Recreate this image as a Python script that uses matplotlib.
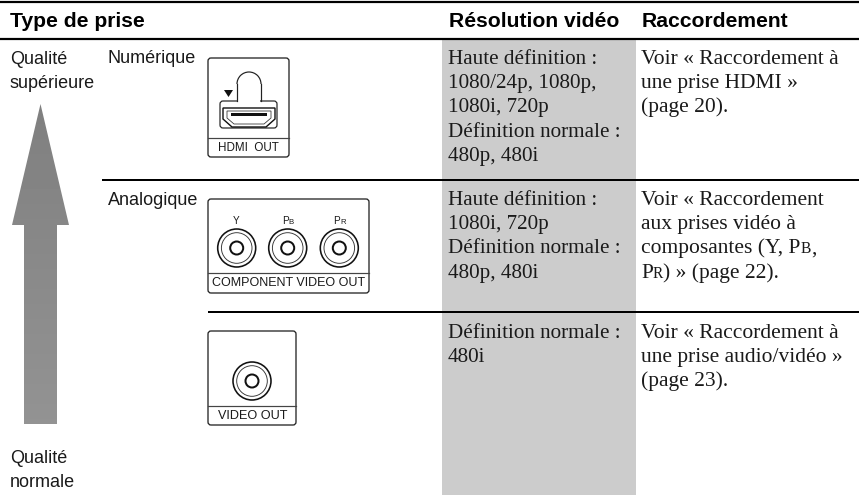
import numpy as np
import matplotlib
matplotlib.use('Agg')
from matplotlib import pyplot as plt
from matplotlib.patches import Arc, Circle, FancyBboxPatch, Polygon, Rectangle

SANS = 'Liberation Sans'
SERIF = 'Liberation Serif'
INK = '#1a1a1a'

headers = ['Type de prise', 'Résolution vidéo', 'Raccordement']
quality_top = ['Qualité', 'supérieure']
quality_bottom = ['Qualité', 'normale']
signal_types = ['Numérique', 'Analogique']

resolution_rows = [
    ['Haute définition :', '1080/24p, 1080p,', '1080i, 720p', 'Définition normale :', '480p, 480i'],
    ['Haute définition :', '1080i, 720p', 'Définition normale :', '480p, 480i'],
    ['Définition normale :', '480i'],
]
# each line is a list of runs, (text, small) where small is the small capital part
connection_rows = [
    [[('Voir « Raccordement à', 0)], [('une prise HDMI »', 0)], [('(page 20).', 0)]],
    [[('Voir « Raccordement', 0)], [('aux prises vidéo à', 0)],
     [('composantes (Y, P', 0), ('B', 1), (',', 0)], [('P', 0), ('R', 1), (') » (page 22).', 0)]],
    [[('Voir « Raccordement à', 0)], [('une prise audio/vidéo »', 0)], [('(page 23).', 0)]],
]
row_baselines = [64, 205, 338]
rules = [(0, 1.5, 2.2), (0, 39, 2.2), (102, 179.5, 2), (208, 312, 2)]

fig = plt.figure(figsize=(8.59, 4.95), dpi=100)
ax = fig.add_axes([0, 0, 1, 1])
ax.set_xlim(0, 859)
ax.set_ylim(495, 0)
ax.axis('off')


def px(w):
    return w * 0.72


def write_runs(x, y, runs, size):
    r = fig.canvas.get_renderer()
    for txt, small in runs:
        t = ax.text(x, y, txt, family=SERIF, fontsize=size * 0.72 if small else size,
                    color=INK, va='baseline', ha='left')
        x = t.get_window_extent(r).x1


def box(x0, y0, x1, y1):
    ax.add_patch(FancyBboxPatch((x0 + 3, y0 + 3), x1 - x0 - 6, y1 - y0 - 6,
                                boxstyle='round,pad=3,rounding_size=3',
                                fc='white', ec='#222222', lw=px(1.3), zorder=2))


def jack(x, y):
    ax.add_patch(Circle((x, y), 19, fc='white', ec='#111111', lw=px(1.6), zorder=3))
    ax.add_patch(Circle((x, y), 15.3, fc='white', ec='#333333', lw=px(0.9), zorder=3))
    ax.add_patch(Circle((x, y), 6.5, fc='white', ec='#111111', lw=px(2), zorder=3))


# grey column
ax.add_patch(Rectangle((442, 39), 194, 456, fc='#cccccc', ec='none', zorder=0))

for x, y, lw in rules:
    ax.plot([x, 859], [y, y], color='black', lw=px(lw), solid_capstyle='butt', zorder=1)

# arrow, slight gradient downwards
arrow = Polygon([(40.5, 104), (69, 225), (57, 225), (57, 424), (24, 424), (24, 225), (12, 225)],
                closed=True, fc='none', ec='none')
ax.add_patch(arrow)
grad = np.linspace(0.50, 0.575, 64).reshape(-1, 1)
im = ax.imshow(grad, cmap='gray', vmin=0, vmax=1, extent=(12, 69, 424, 104), aspect='auto', zorder=1)
im.set_clip_path(arrow)
ax.set_xlim(0, 859)
ax.set_ylim(495, 0)

# header and left labels
for x, txt in zip([10, 449, 642], headers):
    ax.text(x, 27, txt, family=SANS, weight='bold', fontsize=15.2, color='black', va='baseline')
for y, txt in zip([64, 88], quality_top):
    ax.text(10, y, txt, family=SANS, fontsize=13, color=INK, va='baseline')
for y, txt in zip([463, 487], quality_bottom):
    ax.text(10, y, txt, family=SANS, fontsize=13, color=INK, va='baseline')
for y, txt in zip([63, 205], signal_types):
    ax.text(107.5, y, txt, family=SANS, fontsize=13, color=INK, va='baseline')

# table text
for base, lines in zip(row_baselines, resolution_rows):
    for i, line in enumerate(lines):
        write_runs(448, base + i * 24.2, [(line, 0)], 15.2)
for base, lines in zip(row_baselines, connection_rows):
    for i, runs in enumerate(lines):
        write_runs(641, base + i * 24.2, runs, 15.5)

# HDMI socket
box(208, 58, 289, 157)
ax.plot([208, 289], [138, 138], color='#444444', lw=px(1.2), zorder=3)
ax.add_patch(FancyBboxPatch((223, 104), 51, 21, boxstyle='round,pad=3,rounding_size=3',
                            fc='white', ec='#222222', lw=px(1.2), zorder=3))
ax.add_patch(Rectangle((238, 98), 22, 8, fc='white', ec='none', zorder=4))
ax.add_patch(Arc((249, 84), 24, 24, theta1=180, theta2=360, ec='#222222', lw=px(1.2), zorder=4))
ax.plot([237, 237], [84, 101], color='#222222', lw=px(1.2), zorder=4)
ax.plot([261, 261], [84, 101], color='#222222', lw=px(1.2), zorder=4)
ax.add_patch(Polygon([(223, 108), (275, 108), (275, 119), (266, 127), (232, 127), (223, 119)],
                     closed=True, fc='white', ec='#111111', lw=px(1.4), zorder=4))
ax.add_patch(Polygon([(227, 111), (271, 111), (271, 118), (264, 124), (234, 124), (227, 118)],
                     closed=True, fc='white', ec='#333333', lw=px(0.8), zorder=4))
ax.add_patch(Rectangle((231, 113), 36, 3, fc='#111111', ec='none', zorder=5))
ax.add_patch(Polygon([(224, 90), (233, 90), (228.5, 97)], closed=True, fc='#111111', ec='none', zorder=4))
ax.text(248.5, 148, 'HDMI  OUT', family=SANS, fontsize=8.4, color=INK, ha='center', va='center', zorder=4)

# component socket
box(208, 199, 369, 293)
ax.plot([208, 369], [273, 273], color='#444444', lw=px(1.2), zorder=3)
jack_x = [236.7, 287.7, 339.3]
jack_labels = [[('Y', 0)], [('P', 0), ('B', 1)], [('P', 0), ('R', 1)]]
r = fig.canvas.get_renderer()
for x, lab in zip(jack_x, jack_labels):
    jack(x, 248)
    cx = x - 3.5 if len(lab) == 1 else x - 6
    for s, small in lab:
        t = ax.text(cx, 224, s, family=SANS, fontsize=5.6 if small else 7.2, color=INK, va='baseline', zorder=4)
        cx = t.get_window_extent(r).x1
ax.text(288.5, 283.5, 'COMPONENT VIDEO OUT', family=SANS, fontsize=9, color=INK,
        ha='center', va='center', zorder=4)

# composite socket
box(208, 331, 296, 425)
ax.plot([208, 296], [406, 406], color='#444444', lw=px(1.2), zorder=3)
jack(252, 381)
ax.text(252.5, 416, 'VIDEO OUT', family=SANS, fontsize=9.1, color=INK, ha='center', va='center', zorder=4)

fig.savefig('out.png', dpi=100)
